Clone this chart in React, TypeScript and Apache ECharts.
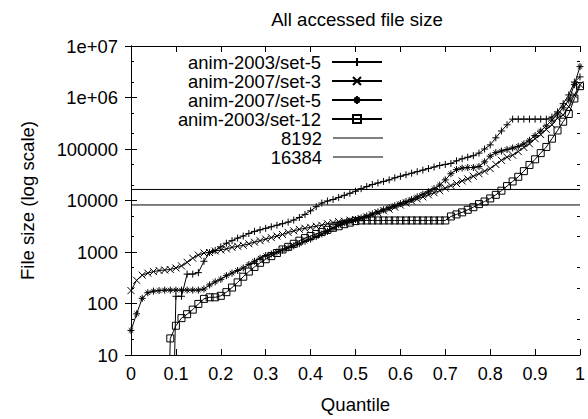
import React, { useEffect, useRef } from 'react';
import * as echarts from 'echarts';

const FONT = "'Liberation Sans', Arial, Helvetica, sans-serif";

// Quantile positions of the plotted samples
const quantiles = [
  0, 0.0125, 0.025, 0.0375, 0.05, 0.0625, 0.075, 0.0875, 0.1, 0.1125,
  0.125, 0.1375, 0.15, 0.1625, 0.175, 0.1875, 0.2, 0.2125, 0.225, 0.2375,
  0.25, 0.2625, 0.275, 0.2875, 0.3, 0.3125, 0.325, 0.3375, 0.35, 0.3625,
  0.375, 0.3875, 0.4, 0.4125, 0.425, 0.4375, 0.45, 0.4625, 0.475, 0.4875,
  0.5, 0.5125, 0.525, 0.5375, 0.55, 0.5625, 0.575, 0.5875, 0.6, 0.6125,
  0.625, 0.6375, 0.65, 0.6625, 0.675, 0.6875, 0.7, 0.7125, 0.725, 0.7375,
  0.75, 0.7625, 0.775, 0.7875, 0.8, 0.8125, 0.825, 0.8375, 0.85, 0.8625,
  0.875, 0.8875, 0.9, 0.9125, 0.925, 0.9375, 0.95, 0.9625, 0.975, 0.9875, 1,
];

// File sizes (bytes); 0.001 = below the plotted range
const anim2003set5 = [
  0.001, 0.001, 0.001, 0.001, 0.001, 0.001, 0.001, 0.001,
  138, 138, 372, 372, 398, 661, 977, 1072, 1259, 1479,
  1660, 1862, 2042, 2291, 2512, 2692, 2884, 3090, 3311, 3548,
  3802, 4169, 4677, 5370, 6310, 7586, 8913, 9772, 10470, 11480,
  12590, 13800, 15140, 16980, 18620, 20420, 21880, 23440, 25120, 27540,
  29510, 31620, 33880, 36310, 38900, 41690, 44670, 47860, 50120, 52480,
  58880, 64570, 69180, 74130, 83180, 100000, 120200, 165000, 224000, 295000,
  380200, 380200, 380200, 380200, 380200, 380200, 380200,
  416900, 524800, 758600, 1122000, 1995000, 2512000,
];

const anim2007set3 = [
  178, 282, 355, 389, 417, 437, 447, 457, 490, 537,
  631, 759, 871, 955, 977, 1047, 1096, 1148, 1230, 1288,
  1349, 1445, 1549, 1660, 1778, 1905, 2042, 2188, 2399, 2570,
  2754, 2884, 3020, 3162, 3311, 3548, 3715, 3890, 3981, 4169,
  4266, 4467, 4786, 5248, 5754, 6310, 6761, 7413, 8128, 8913,
  9772, 10720, 11750, 12880, 14130, 15490, 17380, 19500, 21380, 23990,
  26300, 29510, 33110, 37150, 41690, 50120, 60260, 69180, 75860, 89130,
  107200, 125900, 158500, 190500, 239900, 295100, 398100, 457100, 660700, 1122000,
  1778000,
];

const anim2007set5 = [
  30, 63, 126, 162, 174, 178, 182, 182, 182, 182,
  182, 182, 182, 191, 229, 263, 295, 347, 389, 437,
  490, 575, 661, 759, 851, 912, 1000, 1096, 1202, 1318,
  1445, 1622, 1778, 1995, 2239, 2512, 2884, 3388, 3715, 3981,
  4266, 4571, 5012, 5495, 6026, 6607, 7244, 7943, 8710, 9550,
  10470, 11750, 13180, 14790, 16980, 19950, 25120, 33110, 39810, 42660,
  43650, 43650, 45710, 56230, 72440, 85110, 91200, 97720, 104700, 112200,
  125900, 147900, 182000, 223900, 281800, 363100, 478600, 631000, 891300, 1778000,
  3981000,
];

const anim2003set12 = [
  0.001, 0.001, 0.001, 0.001, 0.001, 0.001, 0.001,
  21, 37, 52,
  62, 76, 98, 123, 132, 132, 141, 166, 204, 257,
  331, 417, 513, 617, 724, 832, 955, 1122, 1259, 1445,
  1660, 1862, 2042, 2239, 2455, 2692, 2951, 3162, 3467, 3715,
  3981, 4096, 4096, 4096, 4096, 4096, 4096, 4096, 4096, 4096,
  4096, 4096, 4096, 4096, 4096, 4096, 4096, 4898, 5370, 5888,
  6607, 7413, 8511, 9550, 10960, 12880, 15490, 19050, 23440, 28840,
  37150, 48980, 63100, 83180, 109600, 158500, 229100, 338800, 478600, 955000,
  1660000,
];

const refExtent = [0, 1];
const refValues = [8192, 16384];

const seriesNames = [
  'anim-2003/set-5',
  'anim-2007/set-3',
  'anim-2007/set-5',
  'anim-2003/set-12',
  '8192',
  '16384',
];

const yTickValues = [10, 100, 1000, 10000, 100000, 1000000, 10000000];
const yTickLabels = ['10', '100', '1000', '10000', '100000', '1e+06', '1e+07'];
const yMinorTicks = [20, 50, 200, 500, 2000, 5000, 20000, 50000, 200000, 500000, 2000000, 5000000];

const SYM_PLUS = 'path://M0,5L10,5M5,0L5,10';
const SYM_CROSS = 'path://M0,0L10,10M10,0L0,10';
const SYM_STAR = 'path://M0,5L10,5M5,0L5,10M1.8,1.8L8.2,8.2M8.2,1.8L1.8,8.2';
const SYM_SQUARE = 'path://M0,0L10,0L10,10L0,10Z';
const LEGEND_LINE = 'path://M0,0L50,0L50,1L0,1Z';

const legendTops = [53, 72, 91, 110, 129, 148];

function pairs(values: number[]) {
  return quantiles.map((q, i) => [q, values[i]]);
}

function markerSeries(name: string, values: number[], symbol: string, size: number) {
  return {
    name,
    type: 'line',
    data: pairs(values),
    symbol,
    symbolSize: size,
    showAllSymbol: true,
    lineStyle: { color: '#000', width: 1 },
    itemStyle: { color: 'rgba(0,0,0,0)', borderColor: '#000', borderWidth: 1 },
    emphasis: { disabled: true },
    clip: true,
    z: 3,
  };
}

function refSeries(name: string, value: number) {
  return {
    name,
    type: 'line',
    data: refExtent.map((x) => [x, value]),
    symbol: 'none',
    lineStyle: { color: '#000', width: 1 },
    itemStyle: { color: '#000' },
    emphasis: { disabled: true },
    z: 2,
  };
}

export default function App() {
  const ref = useRef<HTMLDivElement>(null);

  useEffect(() => {
    if (!ref.current) return;
    const chart = echarts.init(ref.current, null, { renderer: 'svg' });
    const axisLineStyle = { color: '#000', width: 1 };
    const textBase = { color: '#000', fontFamily: FONT, fontSize: 18 };
    const textBig = { color: '#000', fontFamily: FONT, fontSize: 18.6 };

    const option: any = {
      animation: false,
      backgroundColor: '#fff',
      title: {
        text: 'All accessed file size',
        left: 357,
        top: 10,
        padding: 0,
        textAlign: 'center',
        textStyle: { ...textBig, fontWeight: 'normal' },
      },
      grid: { left: 131, top: 46, width: 450, height: 319 },
      legend: seriesNames.map((n, i) => ({
        data: i >= 4 ? [{ name: n, icon: LEGEND_LINE }] : [n],
        orient: 'vertical',
        right: 205,
        top: legendTops[i],
        align: 'right',
        itemWidth: 50,
        itemHeight: 10,
        padding: 0,
        selectedMode: false,
        textStyle: { ...textBig, fontSize: 18.4, lineHeight: 18, padding: [0, 6, 0, 0] },
      })),
      xAxis: [
        {
          type: 'value',
          position: 'bottom',
          min: 0,
          max: 1,
          interval: 0.1,
          axisLine: { show: true, lineStyle: axisLineStyle },
          axisTick: { show: true, inside: true, length: 6, lineStyle: axisLineStyle },
          axisLabel: { ...textBase, margin: 10 },
          splitLine: { show: false },
          name: 'Quantile',
          nameLocation: 'middle',
          nameGap: 40,
          nameTextStyle: textBig,
        },
        {
          type: 'value',
          position: 'top',
          min: 0,
          max: 1,
          interval: 0.1,
          axisLine: { show: true, lineStyle: axisLineStyle },
          axisTick: { show: true, inside: true, length: 6, lineStyle: axisLineStyle },
          axisLabel: { show: false },
          splitLine: { show: false },
        },
      ],
      yAxis: [
        {
          type: 'log',
          logBase: 10,
          position: 'left',
          min: 10,
          max: 10000000,
          axisLine: { show: true, lineStyle: axisLineStyle },
          axisTick: { show: true, inside: true, length: 6, lineStyle: axisLineStyle },
          axisLabel: {
            ...textBase,
            fontSize: 18.4,
            margin: 13,
            formatter: (v: number) => {
              const idx = Math.round(Math.log10(v)) - 1;
              return yTickLabels[idx] ?? '';
            },
            customValues: yTickValues,
          },
          splitLine: { show: false },
          name: 'File size (log scale)',
          nameLocation: 'middle',
          nameRotate: 90,
          nameGap: 94,
          nameTextStyle: textBig,
        },
        {
          type: 'log',
          logBase: 10,
          position: 'right',
          min: 10,
          max: 10000000,
          axisLine: { show: true, lineStyle: axisLineStyle },
          axisTick: { show: true, inside: true, length: 6, lineStyle: axisLineStyle },
          axisLabel: { show: false },
          splitLine: { show: false },
        },
        {
          type: 'log',
          logBase: 10,
          position: 'left',
          min: 10,
          max: 10000000,
          axisLine: { show: false },
          axisTick: { show: true, inside: true, length: 3, lineStyle: axisLineStyle, customValues: yMinorTicks },
          axisLabel: { show: false },
          splitLine: { show: false },
        },
        {
          type: 'log',
          logBase: 10,
          position: 'right',
          min: 10,
          max: 10000000,
          axisLine: { show: false },
          axisTick: { show: true, inside: true, length: 3, lineStyle: axisLineStyle, customValues: yMinorTicks },
          axisLabel: { show: false },
          splitLine: { show: false },
        },
      ],
      series: [
        markerSeries(seriesNames[0], anim2003set5, SYM_PLUS, 7),
        markerSeries(seriesNames[1], anim2007set3, SYM_CROSS, 7),
        markerSeries(seriesNames[2], anim2007set5, SYM_STAR, 7),
        markerSeries(seriesNames[3], anim2003set12, SYM_SQUARE, 7),
        refSeries(seriesNames[4], refValues[0]),
        refSeries(seriesNames[5], refValues[1]),
      ],
    };
    chart.setOption(option);
    return () => chart.dispose();
  }, []);

  return (
    <div
      ref={ref}
      style={{ position: 'fixed', left: 0, top: 0, width: 588, height: 419, background: '#fff' }}
    />
  );
}
